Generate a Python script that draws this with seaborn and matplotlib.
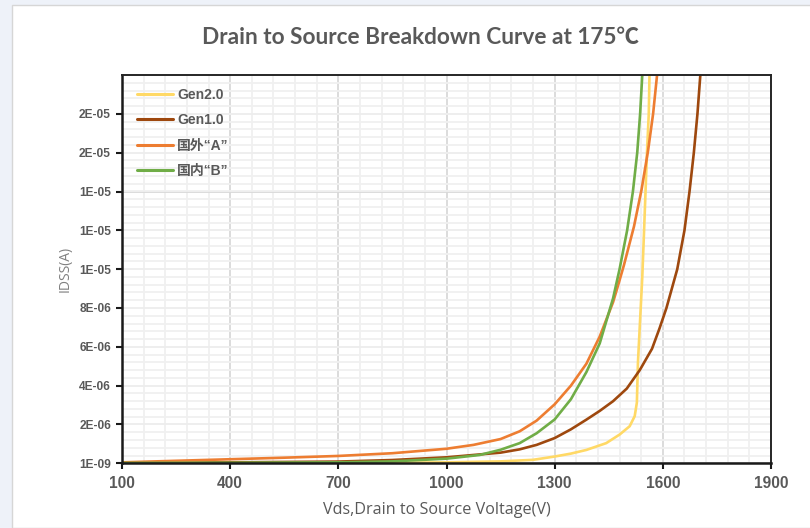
import numpy as np
import pandas as pd
import matplotlib
matplotlib.use("Agg")
import matplotlib.pyplot as plt
from matplotlib.patches import Rectangle
from matplotlib.ticker import FixedLocator, FuncFormatter
from matplotlib.font_manager import FontProperties
import seaborn as sns

# ---- data (current in units of 1e-6 A) ----
gen2_v = [100, 700, 1000, 1150, 1240, 1300, 1345, 1388, 1443, 1480, 1508, 1522, 1528,
          1531, 1537, 1543, 1548, 1552, 1556, 1561, 1563]
gen2_i = [0.0, 0.01, 0.05, 0.10, 0.18, 0.35, 0.50, 0.69, 1.04, 1.48, 1.91, 2.43, 3.13,
          5.2, 7.4, 9.6, 12.0, 14.0, 16.0, 18.0, 20.0]

gen1_v = [100, 400, 700, 850, 1000, 1150, 1203, 1250, 1300, 1345, 1388, 1425, 1462, 1500,
          1536, 1570, 1591, 1610, 1625, 1640, 1660, 1674, 1686, 1696, 1704]
gen1_i = [0.02, 0.05, 0.09, 0.17, 0.31, 0.55, 0.72, 0.95, 1.30, 1.75, 2.25, 2.70, 3.20, 3.85,
          4.80, 5.9, 6.96, 8.0, 9.0, 10.0, 12.0, 14.0, 16.0, 18.0, 20.0]

a_v = [100, 250, 400, 550, 700, 850, 1000, 1075, 1150, 1203, 1250, 1300, 1345, 1388,
       1425, 1462, 1478, 1492, 1520, 1541, 1559, 1573, 1584]
a_i = [0.05, 0.13, 0.21, 0.29, 0.38, 0.52, 0.75, 0.95, 1.25, 1.65, 2.20, 3.04, 4.00, 5.13,
       6.53, 8.3, 9.3, 10.2, 12.2, 14.1, 16.1, 18.0, 20.0]

b_v = [100, 400, 700, 850, 1000, 1092, 1150, 1203, 1250, 1300, 1345, 1388, 1425, 1462,
       1480, 1501, 1517, 1529, 1537, 1543]
b_i = [0.02, 0.03, 0.05, 0.10, 0.24, 0.43, 0.70, 1.04, 1.55, 2.26, 3.30, 4.70, 6.18, 8.5,
       10.0, 12.0, 14.0, 16.0, 18.0, 20.0]

series_names = ["Gen2.0", "Gen1.0", "国外“A”", "国内“B”"]
series_colors = ["#FFD966", "#9E480E", "#ED7D31", "#70AD47"]
x_ticks = [100, 400, 700, 1000, 1300, 1600, 1900]

title = "Drain to Source Breakdown Curve at 175℃"
xlabel = "Vds,Drain to Source Voltage(V)"
ylabel = "IDSS(A)"

frames = []
for name, vv, ii in zip(series_names, [gen2_v, gen1_v, a_v, b_v], [gen2_i, gen1_i, a_i, b_i]):
    frames.append(pd.DataFrame({"V": vv, "I": np.array(ii) * 1e-6, "series": name}))
df = pd.concat(frames, ignore_index=True)

sns.set_style("white")
plt.rcParams['font.family'] = ['Liberation Sans', 'Noto Sans CJK SC', 'DejaVu Sans']

fig = plt.figure(figsize=(8.1, 5.28), dpi=100)
fig.patch.set_facecolor("#eef2f9")
fig.patches.append(Rectangle((12 / 810, 0), 1.0, 523 / 528, transform=fig.transFigure,
                             facecolor="white", edgecolor="#d6d6d6", lw=1.0, zorder=-10))

ax = fig.add_axes([122 / 810, (528 - 463.3) / 528, 649 / 810, 388.3 / 528])
ax.set_facecolor("white")

sns.lineplot(data=df, x="V", y="I", hue="series", hue_order=series_names,
             palette=dict(zip(series_names, series_colors)), sort=False,
             estimator=None, linewidth=1.9, ax=ax, legend=True)

ax.set_xlim(100, 1900)
ax.set_ylim(1e-9, 2.0e-5 + 1e-9)

ax.xaxis.set_major_locator(FixedLocator(x_ticks))
ax.xaxis.set_minor_locator(FixedLocator([100 + 60 * k for k in range(31)]))
yt = [1e-9] + [2e-6 * k for k in range(1, 10)]
ax.yaxis.set_major_locator(FixedLocator(yt))
ax.yaxis.set_minor_locator(FixedLocator([1e-9 + 4e-7 * k for k in range(1, 50)]))
ax.yaxis.set_major_formatter(FuncFormatter(lambda v, p: f"{v:.0E}"))

ax.grid(True, which="minor", color="#f0f0f0", lw=1.3, linestyle="-", zorder=0)
ax.grid(True, which="major", color="#d9d9d9", lw=1.3, linestyle="-", zorder=0)
ax.set_axisbelow(True)

for s in ["left", "bottom"]:
    ax.spines[s].set_color("#1a1a1a")
    ax.spines[s].set_linewidth(1.8)
for s in ["top", "right"]:
    ax.spines[s].set_color("#262626")
    ax.spines[s].set_linewidth(1.4)

ax.tick_params(axis="both", which="minor", length=0)
ax.tick_params(axis="y", which="major", direction="out", length=4, width=1.5,
               colors="#1a1a1a", labelcolor="#595959", labelsize=8.6, pad=4, left=True)
ax.tick_params(axis="x", which="major", direction="out", length=4, width=1.5,
               colors="#1a1a1a", labelcolor="#595959", labelsize=11.2, pad=5, bottom=True)
for lab in ax.get_yticklabels():
    lab.set_fontweight("bold")
for lab in ax.get_xticklabels():
    lab.set_fontweight("bold")

ax.set_xlabel(xlabel, fontsize=11.6, color="#595959", family="Open Sans")
ax.xaxis.set_label_coords(0.485, -39 / 388)
ax.set_ylabel(ylabel, fontsize=10, color="#808080", family="Open Sans")
ax.yaxis.set_label_coords(-49 / 649, 0.5)

fig.text(421 / 810, 1 - 37 / 528, title, ha="center", va="center", fontsize=16.3,
         fontweight="bold", color="#595959", family=["Lato", "Noto Sans CJK SC"])

handles, labels = ax.get_legend_handles_labels()
leg = ax.legend(handles, labels, loc="upper left", frameon=False,
                bbox_to_anchor=(15 / 649, 1 - 13 / 388), borderaxespad=0, borderpad=0,
                handlelength=2.6, handletextpad=0.3, labelspacing=0.81,
                prop=FontProperties(family=['Liberation Sans', 'Noto Sans CJK SC'],
                                    weight="bold", size=10))
for t in leg.get_texts():
    t.set_color("#595959")
for l in leg.get_lines():
    l.set_linewidth(2.2)

fig.savefig("out.png", dpi=100, facecolor=fig.get_facecolor())
